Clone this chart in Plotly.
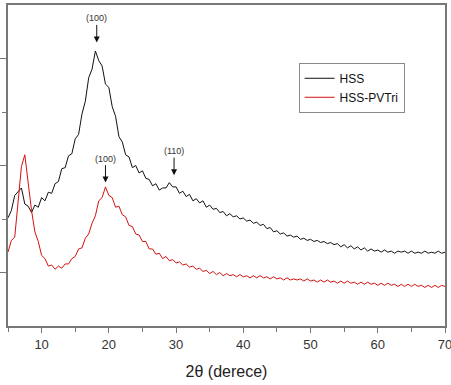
import plotly.graph_objects as go

two_theta = [
    5.0, 5.5, 6.0, 6.5, 7.0, 7.5, 8.0, 8.5, 9.0, 9.5,
    10.0, 10.5, 11.0, 11.5, 12.0, 12.5, 13.0, 13.5, 14.0, 14.5,
    15.0, 15.5, 16.0, 16.5, 17.0, 17.5, 18.0, 18.5, 19.0, 19.5,
    20.0, 20.5, 21.0, 21.5, 22.0, 22.5, 23.0, 23.5, 24.0, 24.5,
    25.0, 25.5, 26.0, 26.5, 27.0, 27.5, 28.0, 28.5, 29.0, 29.5,
    30.0, 30.5, 31.0, 31.5, 32.0, 32.5, 33.0, 33.5, 34.0, 34.5,
    35.0, 35.5, 36.0, 36.5, 37.0, 37.5, 38.0, 38.5, 39.0, 39.5,
    40.0, 40.5, 41.0, 41.5, 42.0, 42.5, 43.0, 43.5, 44.0, 44.5,
    45.0, 45.5, 46.0, 46.5, 47.0, 47.5, 48.0, 48.5, 49.0, 49.5,
    50.0, 50.5, 51.0, 51.5, 52.0, 52.5, 53.0, 53.5, 54.0, 54.5,
    55.0, 55.5, 56.0, 56.5, 57.0, 57.5, 58.0, 58.5, 59.0, 59.5,
    60.0, 60.5, 61.0, 61.5, 62.0, 62.5, 63.0, 63.5, 64.0, 64.5,
    65.0, 65.5, 66.0, 66.5, 67.0, 67.5, 68.0, 68.5, 69.0, 69.5,
    70.0,
]

hss = [
    1.51, 1.58, 1.72, 1.76, 1.79, 1.64, 1.62, 1.56, 1.63, 1.61,
    1.70, 1.67, 1.75, 1.74, 1.83, 1.85, 1.97, 1.98, 2.09, 2.11,
    2.25, 2.29, 2.48, 2.60, 2.82, 2.90, 3.07, 2.98, 2.93, 2.76,
    2.73, 2.55, 2.46, 2.27, 2.22, 2.10, 2.08, 1.98, 2.00, 1.93,
    1.95, 1.88, 1.87, 1.81, 1.83, 1.77, 1.79, 1.79, 1.84, 1.80,
    1.80, 1.74, 1.76, 1.71, 1.73, 1.67, 1.69, 1.65, 1.67, 1.61,
    1.63, 1.59, 1.60, 1.56, 1.57, 1.53, 1.55, 1.52, 1.53, 1.50,
    1.51, 1.48, 1.49, 1.46, 1.47, 1.44, 1.45, 1.41, 1.42, 1.38,
    1.39, 1.36, 1.37, 1.34, 1.35, 1.33, 1.34, 1.31, 1.32, 1.30,
    1.31, 1.29, 1.30, 1.28, 1.29, 1.27, 1.28, 1.26, 1.27, 1.24,
    1.26, 1.23, 1.25, 1.22, 1.24, 1.21, 1.23, 1.20, 1.22, 1.20,
    1.21, 1.19, 1.21, 1.19, 1.20, 1.18, 1.20, 1.19, 1.20, 1.18,
    1.20, 1.18, 1.19, 1.18, 1.20, 1.18, 1.19, 1.18, 1.20, 1.18,
    1.19,
]

hss_pvtri = [
    1.19, 1.30, 1.33, 1.70, 1.99, 2.10, 1.83, 1.58, 1.38, 1.29,
    1.16, 1.13, 1.06, 1.07, 1.03, 1.06, 1.04, 1.08, 1.08, 1.13,
    1.15, 1.22, 1.23, 1.32, 1.36, 1.46, 1.53, 1.67, 1.70, 1.80,
    1.72, 1.70, 1.61, 1.62, 1.54, 1.52, 1.44, 1.43, 1.36, 1.35,
    1.29, 1.29, 1.22, 1.22, 1.17, 1.18, 1.13, 1.15, 1.11, 1.12,
    1.09, 1.10, 1.07, 1.08, 1.05, 1.06, 1.03, 1.04, 1.01, 1.02,
    0.99, 1.01, 0.98, 1.00, 0.97, 0.99, 0.97, 0.98, 0.96, 0.98,
    0.96, 0.97, 0.95, 0.97, 0.95, 0.97, 0.95, 0.96, 0.94, 0.96,
    0.94, 0.95, 0.93, 0.95, 0.93, 0.94, 0.93, 0.94, 0.92, 0.94,
    0.92, 0.93, 0.91, 0.93, 0.91, 0.93, 0.91, 0.92, 0.90, 0.92,
    0.90, 0.92, 0.90, 0.91, 0.89, 0.91, 0.89, 0.91, 0.89, 0.90,
    0.88, 0.90, 0.88, 0.90, 0.88, 0.89, 0.87, 0.89, 0.87, 0.89,
    0.87, 0.89, 0.87, 0.88, 0.86, 0.88, 0.86, 0.88, 0.86, 0.88,
    0.87,
]

# peak labels: (text, 2theta, tip value)
peak_labels = ["(100)", "(110)", "(100)"]
peak_x = [18.2, 29.7, 19.5]
peak_y = [3.15, 1.91, 1.84]
x_ticks = [10, 20, 30, 40, 50, 60, 70]

n = min(len(two_theta), len(hss), len(hss_pvtri))

fig = go.Figure()
fig.add_trace(go.Scatter(x=two_theta[:n], y=hss[:n], mode="lines", name="HSS",
                         line=dict(color="#111111", width=1)))
fig.add_trace(go.Scatter(x=two_theta[:n], y=hss_pvtri[:n], mode="lines", name="HSS-PVTri",
                         line=dict(color="#d41010", width=1)))

for t, xx, yy in zip(peak_labels, peak_x, peak_y):
    fig.add_annotation(x=xx, y=yy, text=t, showarrow=True, arrowhead=2, arrowsize=1.2,
                       arrowwidth=1, arrowcolor="#111111", ax=0, ay=-24,
                       font=dict(size=9, color="#333333", family="Liberation Sans"))

fig.update_layout(
    width=451, height=385,
    margin=dict(l=8, r=6, t=5, b=59, autoexpand=False),
    paper_bgcolor="white", plot_bgcolor="white",
    font=dict(family="Liberation Sans, Arial", color="#333333"),
    showlegend=True,
    legend=dict(x=0.665, y=0.82, xanchor="left", yanchor="top",
                bordercolor="#888888", borderwidth=1, bgcolor="white",
                font=dict(size=12, color="#111111"), itemwidth=30,
                tracegroupgap=0),
    xaxis=dict(range=[5, 70], tickvals=x_ticks, showgrid=False, zeroline=False,
               showline=True, linecolor="#777777", linewidth=2, mirror=True,
               ticks="outside", ticklen=5, tickcolor="#777777", tickwidth=1,
               ticklabeloverflow="allow", automargin=False,
               tickfont=dict(size=13, color="#333333"),
               minor=dict(dtick=5, tick0=5, ticks="outside", ticklen=4, tickcolor="#777777"),
               title=dict(text="2θ (derece)", font=dict(size=16, color="#222222"), standoff=15)),
    yaxis=dict(range=[0.5, 3.5], tickvals=[1, 2, 3], showticklabels=False, showgrid=False,
               zeroline=False, showline=True, linecolor="#777777", linewidth=2, mirror=True,
               ticks="outside", ticklen=7, tickcolor="#777777", tickwidth=1, automargin=False,
               minor=dict(tickvals=[1.5, 2.5], ticks="outside", ticklen=4, tickcolor="#777777")),
)

fig.write_html("out.html")
